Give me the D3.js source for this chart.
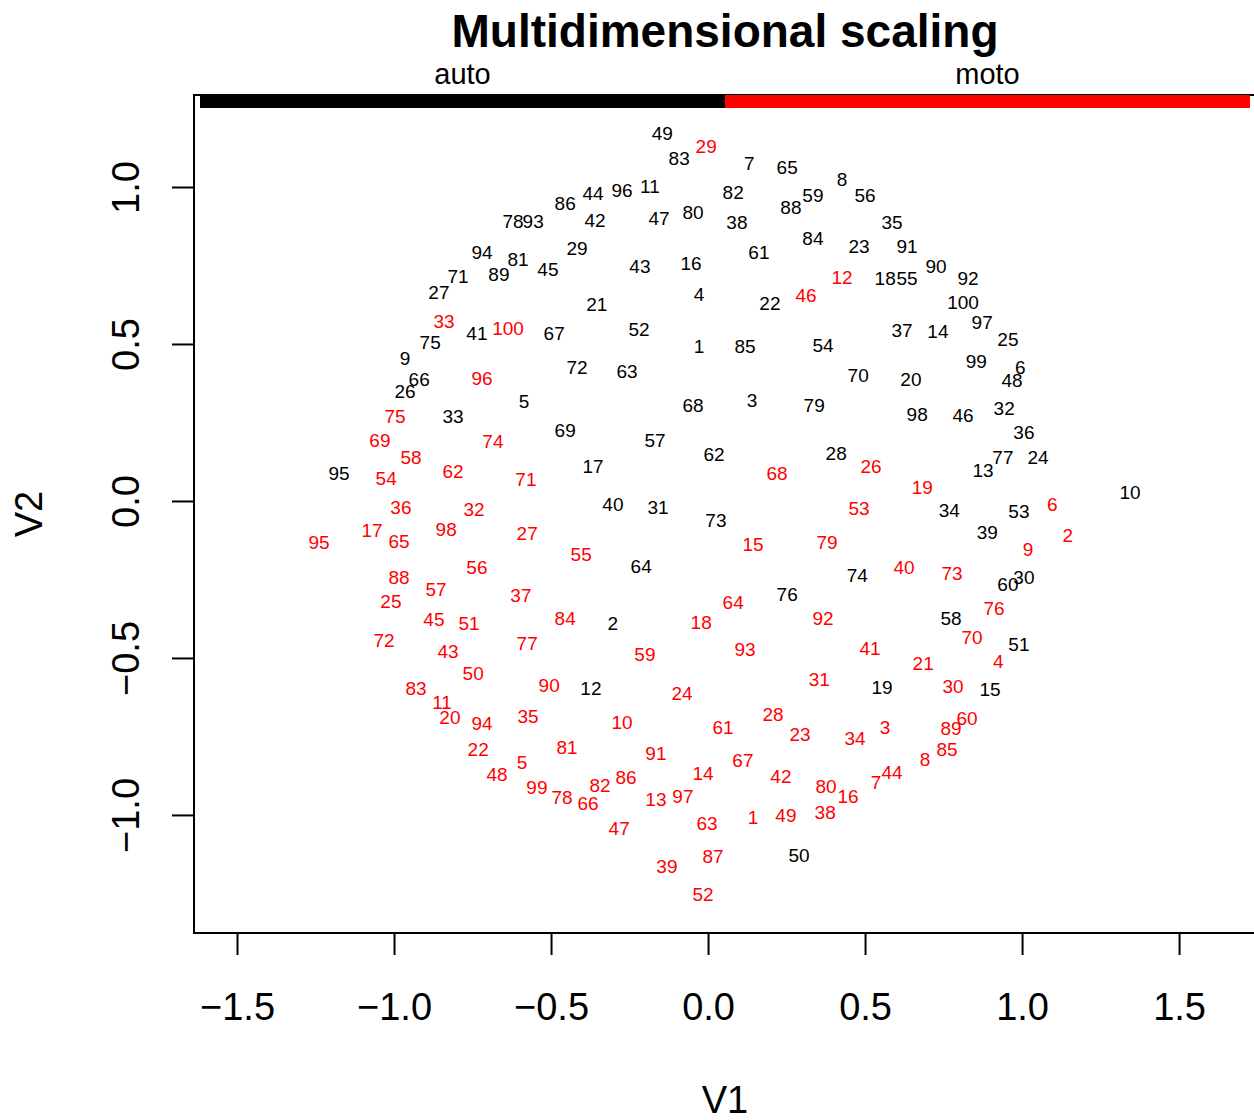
<!DOCTYPE html>
<html>
<head>
<meta charset="utf-8">
<script src="https://cdn.jsdelivr.net/npm/d3@7"></script>
<style>
  body { margin: 0; background: #fff; }
  svg { display: block; font-family: "Liberation Sans", Arial, Helvetica, sans-serif; }
</style>
</head>
<body>
<div id="chart"></div>
<script>
// MDS coordinates, split by group
var groups = ["auto", "moto"];
var groupColors = ["#000000", "#ff0000"];

var autoIds = [49,83,7,65,8,56,11,96,44,86,82,59,88,78,93,42,47,80,38,35,84,29,61,23,91,94,81,45,89,71,43,16,90,18,55,92,27,4,22,21,100,97,37,14,25,41,67,52,1,85,54,75,9,72,63,99,6,48,70,20,66,26,5,33,68,3,79,98,46,32,69,57,36,62,28,77,24,13,95,17,10,40,31,73,34,53,39,64,74,60,30,76,2,58,51,12,19,15,50];
var autoV1 = [-0.146,-0.092,0.131,0.252,0.427,0.500,-0.185,-0.274,-0.366,-0.455,
  0.080,0.334,0.264,-0.621,-0.557,-0.360,-0.156,-0.048,0.092,0.586,
  0.334,-0.417,0.162,0.481,0.634,-0.720,-0.605,-0.510,-0.666,-0.796,
  -0.217,-0.054,0.726,0.564,0.634,0.828,-0.857,-0.029,0.197,-0.354,
  0.812,0.873,0.618,0.732,0.955,-0.736,-0.490,-0.220,-0.029,0.118,
  0.366,-0.885,-0.965,-0.417,-0.258,0.854,0.994,0.968,0.478,0.646,
  -0.920,-0.965,-0.586,-0.812,-0.048,0.140,0.338,0.666,0.812,0.943,
  -0.455,-0.169,1.006,0.019,0.408,0.939,1.051,0.876,-1.175,-0.366,
  1.344,-0.303,-0.159,0.025,0.768,0.990,0.889,-0.213,0.475,0.955,
  1.006,0.252,-0.303,0.774,0.990,-0.373,0.554,0.898,0.290];
var autoV2 = [1.172,1.092,1.076,1.064,1.025,0.975,1.003,0.990,0.981,0.949,
  0.984,0.975,0.936,0.892,0.892,0.895,0.901,0.920,0.889,0.889,
  0.838,0.806,0.793,0.812,0.812,0.793,0.771,0.739,0.723,0.717,
  0.748,0.758,0.748,0.710,0.710,0.710,0.666,0.659,0.631,0.627,
  0.634,0.570,0.545,0.541,0.516,0.535,0.535,0.548,0.494,0.494,
  0.497,0.506,0.455,0.427,0.414,0.446,0.427,0.385,0.401,0.389,
  0.389,0.350,0.318,0.271,0.306,0.322,0.306,0.277,0.274,0.296,
  0.226,0.194,0.220,0.150,0.153,0.140,0.140,0.099,0.089,0.111,
  0.029,-0.010,-0.019,-0.061,-0.029,-0.032,-0.099,-0.207,-0.236,-0.264,
  -0.242,-0.296,-0.389,-0.373,-0.455,-0.596,-0.592,-0.599,-1.127];

var motoIds = [29,12,46,33,100,96,75,69,74,58,62,54,71,68,26,19,36,32,53,6,17,65,98,27,2,95,15,79,55,9,56,40,73,88,57,37,25,64,76,84,45,51,18,92,72,77,93,70,41,43,59,4,21,50,31,90,30,24,83,11,20,94,35,10,28,61,60,89,3,23,34,22,81,91,85,67,5,8,14,42,86,48,44,7,82,80,99,16,97,13,78,66,1,49,38,63,47,87,39,52];
var motoV1 = [-0.006,0.427,0.312,-0.841,-0.637,-0.720,-0.997,-1.045,-0.685,-0.946,
  -0.812,-1.025,-0.580,0.220,0.519,0.682,-0.978,-0.745,0.481,1.096,
  -1.070,-0.984,-0.834,-0.576,1.146,-1.239,0.143,0.379,-0.404,1.019,
  -0.736,0.624,0.777,-0.984,-0.866,-0.596,-1.010,0.080,0.911,-0.455,
  -0.873,-0.761,-0.022,0.366,-1.032,-0.576,0.118,0.841,0.516,-0.828,
  -0.201,0.924,0.685,-0.748,0.354,-0.506,0.780,-0.083,-0.930,-0.847,
  -0.822,-0.720,-0.573,-0.274,0.207,0.048,0.825,0.774,0.564,0.293,
  0.468,-0.732,-0.449,-0.166,0.761,0.111,-0.592,0.691,-0.016,0.232,
  -0.261,-0.672,0.586,0.535,-0.344,0.376,-0.545,0.446,-0.080,-0.166,
  -0.465,-0.382,0.143,0.248,0.373,-0.003,-0.283,0.016,-0.131,-0.016];
var motoV2 = [1.131,0.713,0.656,0.573,0.551,0.392,0.271,0.194,0.191,0.140,
  0.096,0.073,0.070,0.089,0.111,0.045,-0.019,-0.025,-0.022,-0.010,
  -0.092,-0.127,-0.089,-0.102,-0.108,-0.131,-0.137,-0.131,-0.169,-0.153,
  -0.210,-0.210,-0.229,-0.242,-0.280,-0.299,-0.318,-0.322,-0.341,-0.373,
  -0.376,-0.389,-0.385,-0.373,-0.443,-0.452,-0.471,-0.433,-0.468,-0.478,
  -0.487,-0.510,-0.516,-0.548,-0.567,-0.586,-0.589,-0.611,-0.596,-0.640,
  -0.688,-0.707,-0.685,-0.704,-0.678,-0.720,-0.691,-0.723,-0.720,-0.742,
  -0.755,-0.790,-0.783,-0.803,-0.790,-0.825,-0.831,-0.822,-0.866,-0.876,
  -0.879,-0.869,-0.863,-0.895,-0.904,-0.908,-0.911,-0.939,-0.939,-0.949,
  -0.943,-0.962,-1.006,-1.000,-0.990,-1.025,-1.041,-1.131,-1.162,-1.252];

var xTicks = [-1.5, -1.0, -0.5, 0.0, 0.5, 1.0, 1.5];
var yTicks = [-1.0, -0.5, 0.0, 0.5, 1.0];

var width = 1254, height = 1120;
var margin = {top: 95, left: 194, right: -2, bottom: 187};

var svg = d3.select("#chart").append("svg")
  .attr("width", width)
  .attr("height", height);

var x = d3.scaleLinear()
  .domain([-1.637, 1.745])
  .range([margin.left, width - margin.right]);
var y = d3.scaleLinear()
  .domain([-1.376, 1.293])
  .range([height - margin.bottom, margin.top]);

var fmt = d3.format(".1f");

// x axis
var xAxis = svg.append("g")
  .attr("transform", `translate(0,${height - margin.bottom})`)
  .call(d3.axisBottom(x).tickValues(xTicks).tickFormat(fmt).tickSize(22).tickPadding(50));
xAxis.select(".domain").remove();
xAxis.selectAll("line").attr("stroke", "#000").attr("stroke-width", 2);
xAxis.selectAll("text")
  .attr("fill", "#000")
  .attr("dy", null)
  .attr("y", 87)
  .style("font-size", "38px")
  .style("font-family", "Liberation Sans, Arial, sans-serif");

// y axis, labels rotated like base R
var yAxis = svg.append("g")
  .attr("transform", `translate(${margin.left},0)`)
  .call(d3.axisLeft(y).tickValues(yTicks).tickFormat(fmt).tickSize(22));
yAxis.select(".domain").remove();
yAxis.selectAll("line").attr("stroke", "#000").attr("stroke-width", 2);
yAxis.selectAll("text")
  .attr("fill", "#000")
  .attr("transform", "rotate(-90)")
  .attr("x", 0)
  .attr("y", -69)
  .attr("dy", "0.36em")
  .attr("text-anchor", "middle")
  .style("font-size", "38px")
  .style("font-family", "Liberation Sans, Arial, sans-serif");

// frame
svg.append("rect")
  .attr("x", x.range()[0])
  .attr("y", y.range()[1])
  .attr("width", x.range()[1] - x.range()[0])
  .attr("height", y.range()[0] - y.range()[1])
  .attr("fill", "none")
  .attr("stroke", "#000")
  .attr("stroke-width", 2);

// group bar on top
var barL = x.range()[0] + 6, barR = x.range()[1] - 6;
var barW = (barR - barL) / groups.length;
groups.forEach(function(g, i) {
  svg.append("rect")
    .attr("x", barL + i * barW)
    .attr("y", margin.top)
    .attr("width", barW)
    .attr("height", 13)
    .attr("fill", groupColors[i]);
  svg.append("text")
    .attr("x", barL + (i + 0.5) * barW)
    .attr("y", 84)
    .attr("text-anchor", "middle")
    .style("font-size", "29px")
    .text(g);
});

// point labels
function drawLabels(ids, v1, v2, color) {
  var pts = ids.map(function(id, i) { return {id: id, v1: v1[i], v2: v2[i]}; });
  svg.append("g").selectAll("text")
    .data(pts)
    .join("text")
    .attr("x", d => x(d.v1))
    .attr("y", d => y(d.v2))
    .attr("dy", "0.36em")
    .attr("text-anchor", "middle")
    .attr("fill", color)
    .style("font-size", "19px")
    .text(d => d.id);
}
drawLabels(autoIds, autoV1, autoV2, groupColors[0]);
drawLabels(motoIds, motoV1, motoV2, groupColors[1]);

// titles
svg.append("text")
  .attr("x", (x.range()[0] + x.range()[1]) / 2)
  .attr("y", 47)
  .attr("text-anchor", "middle")
  .style("font-size", "46px")
  .style("font-weight", "bold")
  .text("Multidimensional scaling");

svg.append("text")
  .attr("x", (x.range()[0] + x.range()[1]) / 2)
  .attr("y", 1113)
  .attr("text-anchor", "middle")
  .style("font-size", "38px")
  .text("V1");

svg.append("text")
  .attr("transform", `translate(28,${(y.range()[0] + y.range()[1]) / 2}) rotate(-90)`)
  .attr("dy", "0.36em")
  .attr("text-anchor", "middle")
  .style("font-size", "38px")
  .text("V2");
</script>
</body>
</html>
